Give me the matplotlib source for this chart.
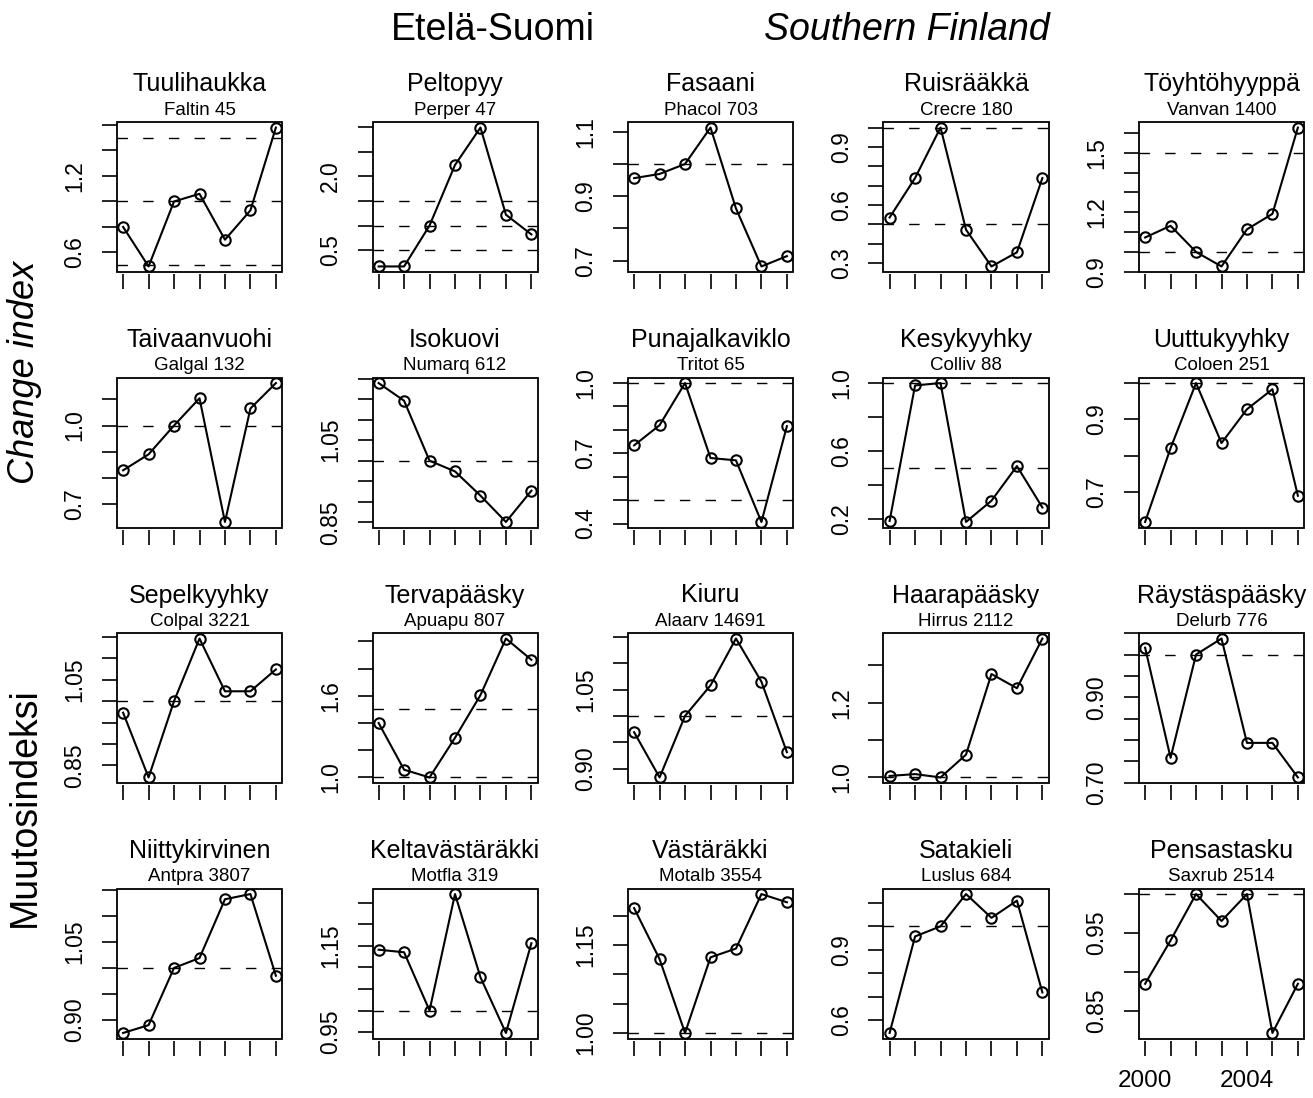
import matplotlib.pyplot as plt
import numpy as np
from matplotlib.patches import Rectangle

plt.rcParams['font.family'] = ['Liberation Sans', 'DejaVu Sans']

years = [2000, 2001, 2002, 2003, 2004, 2005, 2006]

names = ['Tuulihaukka', 'Peltopyy', 'Fasaani', 'Ruisrääkkä', 'Töyhtöhyyppä',
         'Taivaanvuohi', 'Isokuovi', 'Punajalkaviklo', 'Kesykyyhky', 'Uuttukyyhky',
         'Sepelkyyhky', 'Tervapääsky', 'Kiuru', 'Haarapääsky', 'Räystäspääsky',
         'Niittykirvinen', 'Keltavästäräkki', 'Västäräkki', 'Satakieli', 'Pensastasku']
codes = ['Faltin 45', 'Perper 47', 'Phacol 703', 'Crecre 180', 'Vanvan 1400',
         'Galgal 132', 'Numarq 612', 'Tritot 65', 'Colliv 88', 'Coloen 251',
         'Colpal 3221', 'Apuapu 807', 'Alaarv 14691', 'Hirrus 2112', 'Delurb 776',
         'Antpra 3807', 'Motfla 319', 'Motalb 3554', 'Luslus 684', 'Saxrub 2514']

# change index per year (2002 = 1)
tuulihaukka = [0.80, 0.49, 1.00, 1.06, 0.70, 0.93, 1.58]
peltopyy = [0.17, 0.17, 1.00, 2.23, 2.99, 1.22, 0.82]
fasaani = [0.956, 0.969, 1.00, 1.113, 0.862, 0.682, 0.714]
ruisraakka = [0.535, 0.739, 1.00, 0.472, 0.282, 0.355, 0.739]
toyhtohyyppa = [1.073, 1.132, 1.00, 0.927, 1.114, 1.192, 1.627]
taivaanvuohi = [0.829, 0.890, 1.00, 1.104, 0.632, 1.065, 1.162]
isokuovi = [1.189, 1.146, 1.00, 0.974, 0.915, 0.851, 0.927]
punajalkaviklo = [0.734, 0.820, 1.00, 0.680, 0.670, 0.407, 0.816]
kesykyyhky = [0.188, 0.986, 1.00, 0.182, 0.307, 0.511, 0.267]
uuttukyyhky = [0.618, 0.821, 1.00, 0.835, 0.928, 0.983, 0.690]
sepelkyyhky = [0.973, 0.822, 1.00, 1.146, 1.023, 1.023, 1.074]
tervapaasky = [1.40, 1.057, 1.00, 1.291, 1.605, 2.02, 1.864]
kiuru = [0.969, 0.883, 1.00, 1.058, 1.147, 1.065, 0.931]
haarapaasky = [1.004, 1.009, 1.00, 1.061, 1.277, 1.239, 1.372]
raystaspaasky = [1.016, 0.758, 1.00, 1.0375, 0.793, 0.793, 0.712]
niittykirvinen = [0.875, 0.890, 1.00, 1.019, 1.132, 1.142, 0.985]
keltavastarakki = [1.141, 1.135, 1.00, 1.270, 1.077, 0.948, 1.156]
vastarakki = [1.213, 1.126, 1.00, 1.129, 1.144, 1.237, 1.223]
satakieli = [0.547, 0.957, 1.00, 1.137, 1.036, 1.109, 0.719]
pensastasku = [0.885, 0.9405, 1.00, 0.9655, 1.00, 0.822, 0.885]

series = [tuulihaukka, peltopyy, fasaani, ruisraakka, toyhtohyyppa,
          taivaanvuohi, isokuovi, punajalkaviklo, kesykyyhky, uuttukyyhky,
          sepelkyyhky, tervapaasky, kiuru, haarapaasky, raystaspaasky,
          niittykirvinen, keltavastarakki, vastarakki, satakieli, pensastasku]

# y tick step and the tick labels that are printed
tick_steps = [0.2, 0.5, 0.1, 0.1, 0.1,
              0.1, 0.05, 0.1, 0.2, 0.1,
              0.05, 0.2, 0.05, 0.1, 0.05,
              0.05, 0.05, 0.05, 0.1, 0.05]
tick_labels = [['0.6', '1.2'], ['0.5', '2.0'], ['0.7', '0.9', '1.1'], ['0.3', '0.6', '0.9'], ['0.9', '1.2', '1.5'],
               ['0.7', '1.0'], ['0.85', '1.05'], ['0.4', '0.7', '1.0'], ['0.2', '0.6', '1.0'], ['0.7', '0.9'],
               ['0.85', '1.05'], ['1.0', '1.6'], ['0.90', '1.05'], ['1.0', '1.2'], ['0.70', '0.90'],
               ['0.90', '1.05'], ['0.95', '1.15'], ['1.00', '1.15'], ['0.6', '0.9'], ['0.85', '0.95']]
ref_levels = [0.5, 1.0, 1.5]
year_labels = ['2000', '', '', '', '2004', '', '']

W, H = 1313, 1098
fig = plt.figure(figsize=(W / 100, H / 100), dpi=100)

for i in range(20):
    r, c = divmod(i, 5)
    left = 117 + c * 255.5
    top = 122 + r * 255.5
    ax = fig.add_axes([left / W, 1 - (top + 150) / H, 165 / W, 150 / H])
    vals = series[i]
    ax.plot(years, vals, '-', color='k', lw=1.5, marker='o', ms=7.5,
            mfc='none', mec='k', mew=1.5, zorder=3)
    lo, hi = min(vals), max(vals)
    pad = 0.04 * (hi - lo)
    ax.set_ylim(lo - pad, hi + pad)
    ax.set_xlim(years[0] - 0.24, years[-1] + 0.24)
    for lev in ref_levels:
        ax.axhline(lev, color='k', lw=1.0, ls=(0, (7.5, 11)), zorder=2)

    step = tick_steps[i]
    dec = len(tick_labels[i][0].split('.')[1])
    ticks = np.arange(np.ceil((lo - pad) / step - 1e-6) * step, hi + pad + 1e-9, step)
    labs = []
    for t in ticks:
        s = f'{t:.{dec}f}'
        labs.append(s if s in tick_labels[i] else '')
    ax.set_yticks(ticks)
    ax.set_yticklabels(labs, rotation=90, va='center')
    ax.tick_params(axis='y', direction='out', length=11, width=1.2, labelsize=16.5, pad=11)

    for s in ax.spines.values():
        s.set_visible(False)
    ax.spines['bottom'].set_position(('outward', 1.5))
    ax.add_patch(Rectangle((0, 0), 1, 1, transform=ax.transAxes, fill=False,
                           lw=1.3, edgecolor='k', clip_on=False, zorder=4))
    ax.set_xticks(years)
    if i == 19:
        ax.set_xticklabels(year_labels)
    else:
        ax.set_xticklabels([])
    ax.tick_params(axis='x', direction='out', length=11, width=1.2, labelsize=17.5, pad=10)

    ax.annotate(names[i], xy=(0.5, 1), xycoords='axes fraction', xytext=(0, 27),
                textcoords='offset points', ha='center', va='center', fontsize=18)
    ax.annotate(codes[i], xy=(0.5, 1), xycoords='axes fraction', xytext=(0, 8.5),
                textcoords='offset points', ha='center', va='center', fontsize=13.5)

fig.text(493 / W, 1 - 30 / H, 'Etelä-Suomi', ha='center', va='center', fontsize=27)
fig.text(907 / W, 1 - 30 / H, 'Southern Finland', ha='center', va='center',
         fontsize=27, style='italic')
fig.text(25 / W, 1 - 372 / H, 'Change index', ha='center', va='center',
         fontsize=26, style='italic', rotation=90)
fig.text(25 / W, 1 - 807 / H, 'Muutosindeksi', ha='center', va='center',
         fontsize=27, rotation=90)

fig.savefig('out.png', dpi=100)
